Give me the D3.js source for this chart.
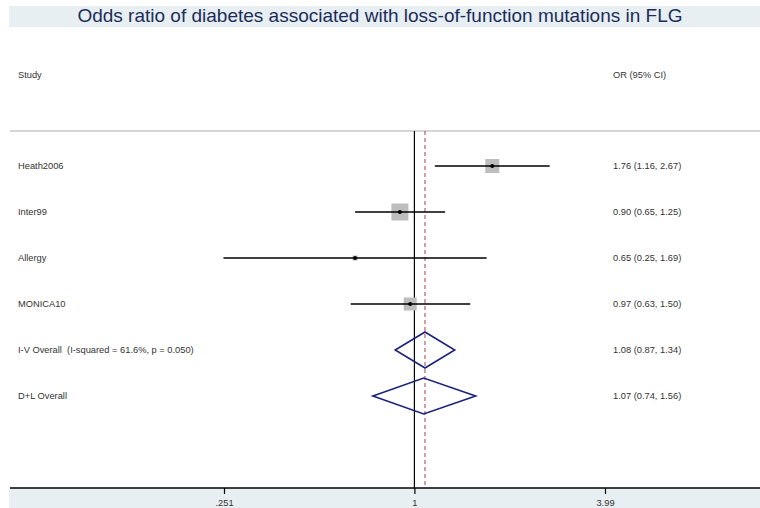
<!DOCTYPE html>
<html>
<head>
  <meta charset="UTF-8">
  <title>Forest plot - FLG and diabetes</title>
  <script src="https://cdn.jsdelivr.net/npm/d3@7"></script>
  <style>
    body { margin: 0; background: #fff; }
    svg text { font-family: "Liberation Sans", Arial, sans-serif; white-space: pre; }
  </style>
</head>
<body>
<div id="chart"></div>
<script>
// studies
var studies = ["Heath2006", "Inter99", "Allergy", "MONICA10"];
var studyOR = [1.76, 0.90, 0.65, 0.97];
var studyLo = [1.16, 0.65, 0.25, 0.63];
var studyHi = [2.67, 1.25, 1.69, 1.50];
var studyWeight = [28.9, 42.6, 3.7, 24.9]; // box area ~ weight

// pooled estimates
var pooled = ["I-V Overall  (I-squared = 61.6%, p = 0.050)", "D+L Overall"];
var pooledOR = [1.08, 1.07];
var pooledLo = [0.87, 0.74];
var pooledHi = [1.34, 1.56];

var tickValues = [0.251, 1, 3.99];
var tickLabels = [".251", "1", "3.99"];

var W = 760, H = 508, fs = 9.3;
var svg = d3.select("#chart").append("svg").attr("width", W).attr("height", H);

var x = d3.scaleLog().domain([0.251, 3.99]).range([224, 605]);
var rows = studies.concat(pooled);
var y = d3.scalePoint().domain(d3.range(rows.length)).range([166, 396]);
var fmt = d3.format(".2f");

// title band
svg.append("rect").attr("x", 9).attr("y", 6).attr("width", W - 9).attr("height", 21).attr("fill", "#e8eff2");
svg.append("text").attr("x", 380).attr("y", 22).attr("text-anchor", "middle")
  .attr("font-size", 19).attr("fill", "#1c2d5c")
  .text("Odds ratio of diabetes associated with loss-of-function mutations in FLG");

// bottom band
svg.append("rect").attr("x", 9).attr("y", 488).attr("width", W - 9).attr("height", 20).attr("fill", "#e8eff2");

// headers
svg.append("text").attr("x", 18).attr("y", 78).attr("font-size", fs).attr("fill", "#333").text("Study");
svg.append("text").attr("x", 613).attr("y", 78).attr("font-size", fs).attr("fill", "#333").text("OR (95% CI)");
svg.append("line").attr("x1", 10).attr("x2", W).attr("y1", 131).attr("y2", 131)
  .attr("stroke", "#c8c8c8").attr("stroke-width", 1.5);

// null line and pooled estimate line
svg.append("line").attr("x1", x(1)).attr("x2", x(1)).attr("y1", 131).attr("y2", 488)
  .attr("stroke", "#000").attr("stroke-width", 1.2);
svg.append("line").attr("x1", x(pooledOR[0])).attr("x2", x(pooledOR[0])).attr("y1", 131).attr("y2", 488)
  .attr("stroke", "#a8404a").attr("stroke-width", 1).attr("stroke-dasharray", "4,3");

// axis
var axis = d3.axisBottom(x).tickValues(tickValues).tickSize(6).tickPadding(5)
  .tickFormat(function(d, i) { return tickLabels[i]; });
var gAx = svg.append("g").attr("transform", "translate(0,488)").call(axis);
gAx.select(".domain").remove();
gAx.selectAll("line").attr("stroke", "#000").attr("stroke-width", 1.2);
gAx.selectAll("text").attr("font-size", fs).attr("fill", "#333").attr("font-family", "Liberation Sans, Arial, sans-serif");
svg.append("line").attr("x1", 10).attr("x2", W).attr("y1", 488).attr("y2", 488)
  .attr("stroke", "#000").attr("stroke-width", 1.5);

// study rows
var boxSide = d3.scaleSqrt().domain([0, d3.max(studyWeight)]).range([0, 17]);
studies.forEach(function(s, i) {
  var cy = y(i);
  svg.append("rect")
    .attr("x", x(studyOR[i]) - boxSide(studyWeight[i]) / 2)
    .attr("y", cy - boxSide(studyWeight[i]) / 2)
    .attr("width", boxSide(studyWeight[i])).attr("height", boxSide(studyWeight[i]))
    .attr("fill", "#bdbdbd");
  svg.append("line").attr("x1", x(studyLo[i])).attr("x2", x(studyHi[i]))
    .attr("y1", cy).attr("y2", cy).attr("stroke", "#000").attr("stroke-width", 1.5);
  svg.append("circle").attr("cx", x(studyOR[i])).attr("cy", cy).attr("r", 2).attr("fill", "#000");
  svg.append("text").attr("x", 18).attr("y", cy + 3).attr("font-size", fs).attr("fill", "#333").text(s);
  svg.append("text").attr("x", 613).attr("y", cy + 3).attr("font-size", fs).attr("fill", "#333")
    .text(fmt(studyOR[i]) + " (" + fmt(studyLo[i]) + ", " + fmt(studyHi[i]) + ")");
});

// pooled diamonds
pooled.forEach(function(s, j) {
  var i = studies.length + j, cy = y(i);
  var pts = [[x(pooledLo[j]), cy], [x(pooledOR[j]), cy - 18], [x(pooledHi[j]), cy], [x(pooledOR[j]), cy + 18]];
  svg.append("path").attr("d", d3.line()(pts) + "Z")
    .attr("fill", "none").attr("stroke", "#1a237e").attr("stroke-width", 1.6);
  svg.append("text").attr("x", 18).attr("y", cy + 3).attr("font-size", fs).attr("fill", "#333").text(s);
  svg.append("text").attr("x", 613).attr("y", cy + 3).attr("font-size", fs).attr("fill", "#333")
    .text(fmt(pooledOR[j]) + " (" + fmt(pooledLo[j]) + ", " + fmt(pooledHi[j]) + ")");
});
</script>
</body>
</html>
